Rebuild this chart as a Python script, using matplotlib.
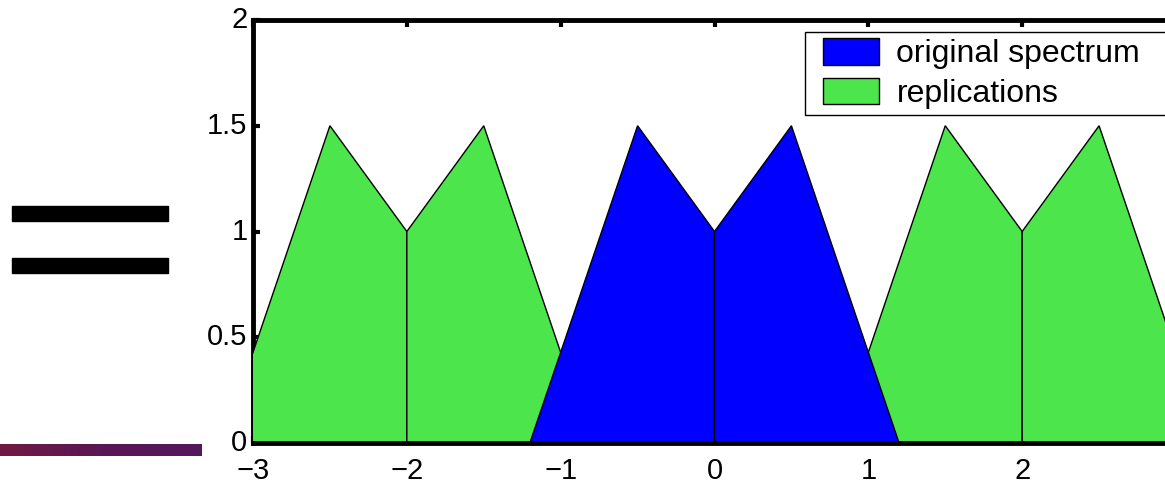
import numpy as np
import matplotlib
matplotlib.use("Agg")
import matplotlib.pyplot as plt
from matplotlib.patches import Polygon, Rectangle

plt.rcParams['font.family'] = ['Liberation Sans', 'DejaVu Sans']

# Baseband spectrum, split into left and right halves at f = 0
left_x = [-1.2, -0.5, 0.0, 0.0]
left_y = [0.0, 1.5, 1.0, 0.0]
right_x = [0.0, 0.0, 0.5, 1.2]
right_y = [0.0, 1.0, 1.5, 0.0]

# Shifts of the sampled copies
replication_shifts = [-2.0, 2.0]

x_ticks = [-3, -2, -1, 0, 1, 2]
x_tick_labels = ["\u22123", "\u22122", "\u22121", "0", "1", "2"]
y_ticks = [0, 0.5, 1, 1.5, 2]
y_tick_labels = ["0", "0.5", "1", "1.5", "2"]

legend_labels = ["original spectrum", "replications"]

blue = "#0000ff"
green = "#4ce54c"

W, H = 1165, 483
fig = plt.figure(figsize=(W / 100, H / 100), dpi=100)

# Slide decorations: equals sign and gradient rule
fig.add_artist(Rectangle((12 / W, 1 - 221 / H), 156 / W, 15 / H,
                         transform=fig.transFigure, color="black"))
fig.add_artist(Rectangle((12 / W, 1 - 273 / H), 156 / W, 15 / H,
                         transform=fig.transFigure, color="black"))
grad = np.linspace(0, 1, 256).reshape(1, -1)
gax = fig.add_axes([0, 1 - 456 / H, 202 / W, 12 / H])
gcmap = matplotlib.colors.LinearSegmentedColormap.from_list(
    "rule", ["#701a42", "#5a1656", "#54165e"])
gax.imshow(grad, aspect="auto", cmap=gcmap)
gax.axis("off")

ax = fig.add_axes([253 / W, 40 / H, (1176 - 253) / W, (443 - 20) / H])
ax.set_xlim(-3, 3)
ax.set_ylim(0, 2)


def add_half(xs, ys, shift, color, z):
    pts = np.column_stack([np.asarray(xs) + shift, ys])
    ax.add_patch(Polygon(pts, closed=True, facecolor=color,
                         edgecolor="black", linewidth=1.0, zorder=z))


for s in replication_shifts:
    add_half(left_x, left_y, s, green, 3)
    add_half(right_x, right_y, s, green, 3)
add_half(left_x, left_y, 0.0, blue, 4)
add_half(right_x, right_y, 0.0, blue, 4)

ax.set_xticks(x_ticks)
ax.set_xticklabels(x_tick_labels)
ax.set_yticks(y_ticks)
ax.set_yticklabels(y_tick_labels)
ax.tick_params(direction="in", length=5, width=3, labelsize=21,
               top=True, right=True)
ax.tick_params(axis="x", pad=10)
ax.tick_params(axis="y", pad=4)
for lab in ax.get_yticklabels():
    lab.set_verticalalignment("center")

for name, sp in ax.spines.items():
    sp.set_linewidth(3.5)
ax.spines["left"].set_zorder(1)
ax.spines["bottom"].set_zorder(5)
ax.spines["top"].set_zorder(5)

# Legend frame runs past the right edge of the figure
frame = Rectangle((805 / W, 1 - 115 / H), (1190 - 805) / W, 83 / H,
                  transform=fig.transFigure, facecolor="white",
                  edgecolor="black", linewidth=1.0, zorder=6, clip_on=False)
ax.add_artist(frame)

handles = [Rectangle((0, 0), 1, 1, facecolor=blue, edgecolor="black", linewidth=1.0),
           Rectangle((0, 0), 1, 1, facecolor=green, edgecolor="black", linewidth=1.0)]
leg = ax.legend(handles, legend_labels, loc="upper left",
                bbox_to_anchor=(823 / W, 1 - 38 / H),
                bbox_transform=fig.transFigure, fontsize=23,
                frameon=False, borderpad=0.0, handlelength=1.75,
                handleheight=0.9, handletextpad=0.55, labelspacing=0.27,
                borderaxespad=0.0)
leg.set_zorder(7)

fig.savefig("out.png", dpi=100)
